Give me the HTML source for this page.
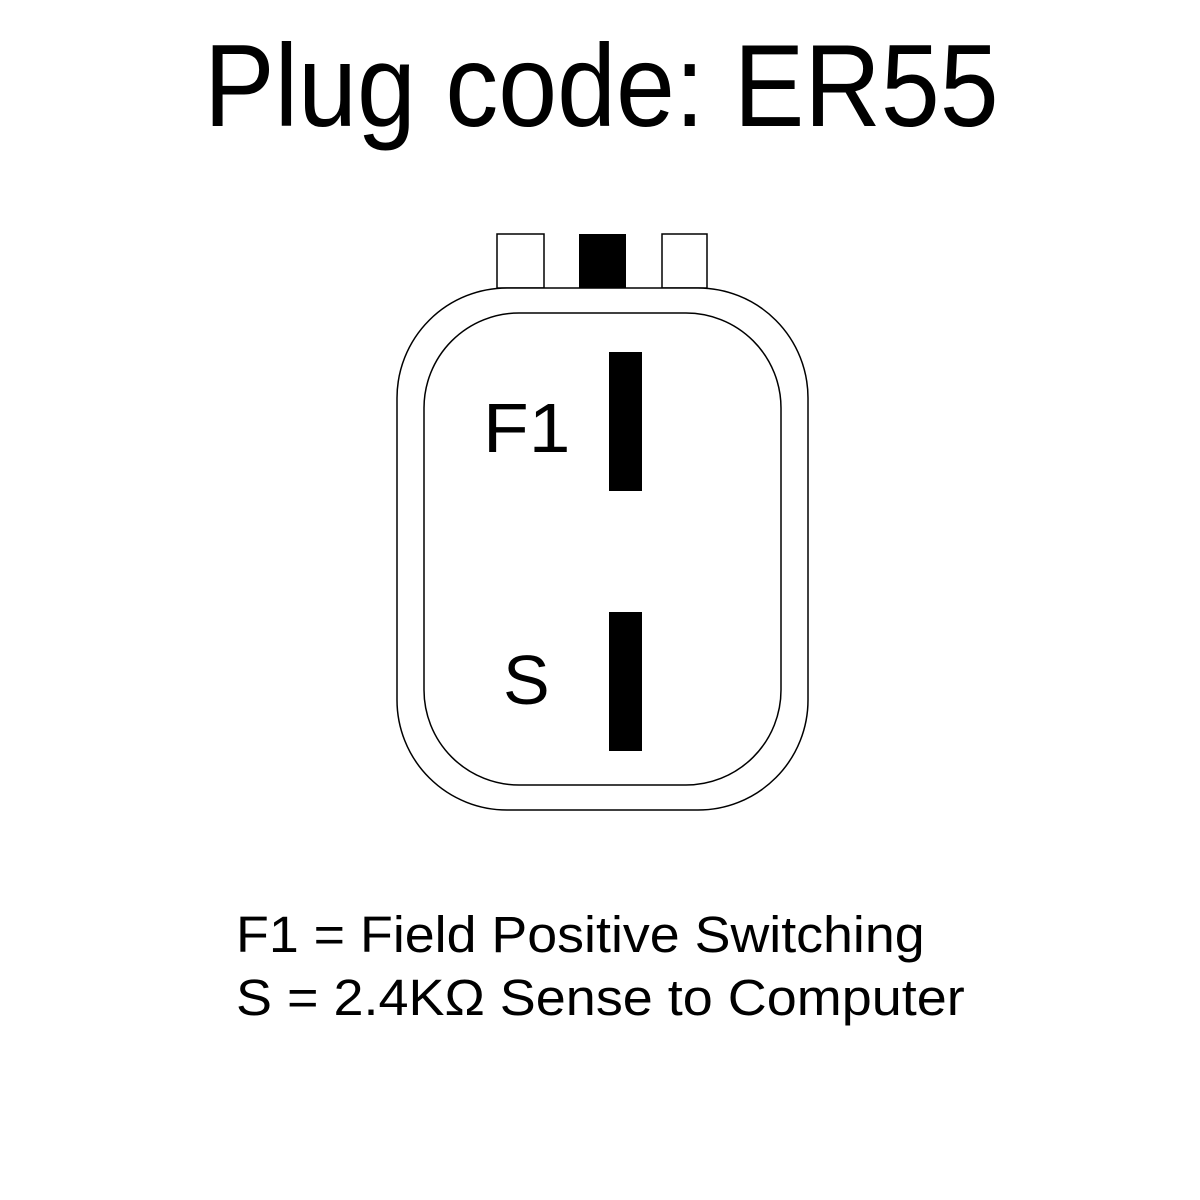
<!DOCTYPE html>
<html><head><style>
body{margin:0;background:#fff;width:1200px;height:1200px;overflow:hidden;position:relative;font-family:"Liberation Sans",Arial,sans-serif}
.t{position:absolute;white-space:nowrap;line-height:1;transform-origin:0 0}
</style></head><body>
<div class="t" style="left:204px;top:27px;font-size:117px;transform:scaleX(0.905)">Plug code: ER55</div>
<svg width="1200" height="1200" style="position:absolute;left:0;top:0">
<g stroke="#000" stroke-width="1.5" fill="#fff">
<rect x="497" y="234" width="47" height="54"/>
<rect x="662" y="234" width="45" height="54"/>
<rect x="397" y="288" width="411" height="522" rx="110" ry="110"/>
<rect x="424" y="313" width="357" height="472" rx="95" ry="95"/>
</g>
<rect x="579" y="234" width="47" height="54" fill="#000"/>
<rect x="609" y="352" width="33" height="139" fill="#000"/>
<rect x="609" y="612" width="33" height="139" fill="#000"/>
</svg>
<div class="t" style="left:483px;top:393px;font-size:70px;transform:scaleX(1.07)">F1</div>
<div class="t" style="left:503px;top:645px;font-size:70px">S</div>
<div class="t" style="left:236px;top:909px;font-size:51px;transform:scaleX(1.054)">F1 = Field Positive Switching</div>
<div class="t" style="left:236px;top:972px;font-size:51px;transform:scaleX(1.058)">S = 2.4KΩ Sense to Computer</div>
</body></html>
